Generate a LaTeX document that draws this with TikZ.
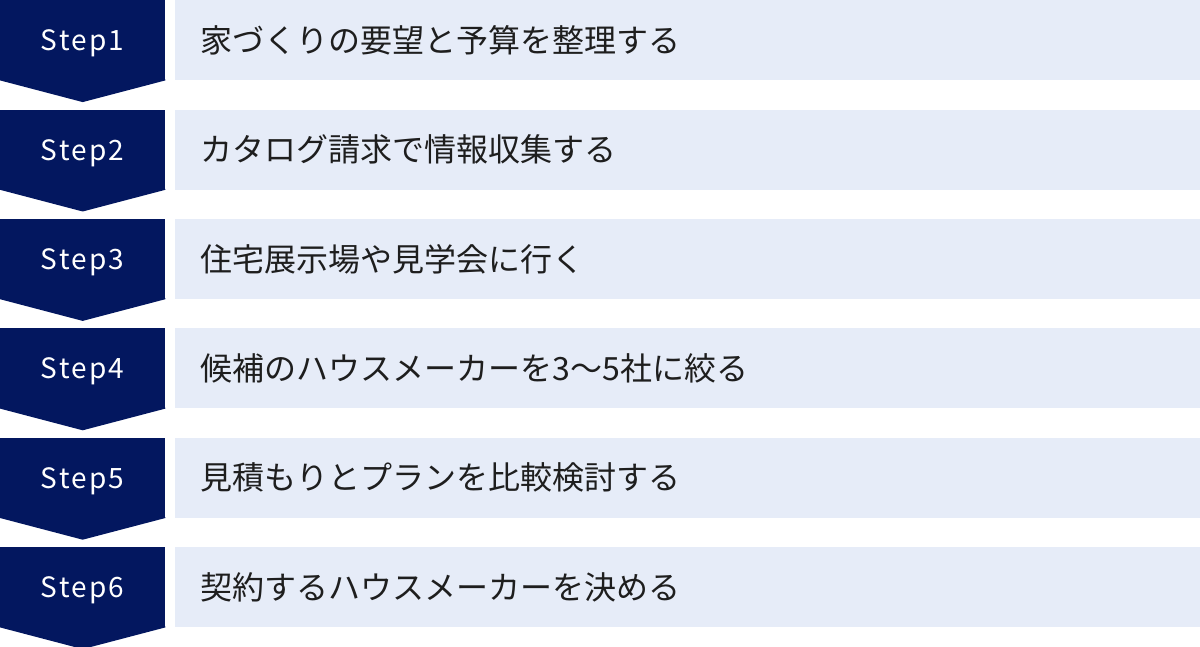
\documentclass[tikz,border=0pt]{standalone}
\usepackage{fontspec}
\setmainfont{Noto Sans CJK JP}
\newfontfamily\stepfont[LetterSpace=8]{Noto Sans CJK JP}
\usetikzlibrary{positioning}
\definecolor{navy}{HTML}{03175F}
\definecolor{pale}{HTML}{E6ECF8}
\definecolor{ink}{HTML}{1E1E1E}
\tikzstyle{stepbox}=[rectangle, fill=navy, text=white, minimum width=165pt,
  minimum height=80pt, inner sep=0pt, text height=21pt, text depth=0pt,
  font=\stepfont\fontsize{28}{32}\selectfont]
\tikzstyle{taskbox}=[rectangle, fill=pale, text=ink, inner xsep=26pt, inner ysep=0pt,
  text width=974pt, minimum height=80pt, align=left,
  font=\fontsize{32}{36}\selectfont]
\tikzstyle{tip}=[fill=navy]

\begin{document}
\begin{tikzpicture}[x=1pt, y=1pt, node distance=29pt]
            \useasboundingbox (0,0) rectangle (1200,-647);

            \node[stepbox, anchor=north west] (s1) at (0,0) {Step1};
            \node[stepbox] (s2) [below=of s1] {Step2};
            \node[stepbox] (s3) [below=of s2] {Step3};
            \node[stepbox] (s4) [below=of s3] {Step4};
            \node[stepbox] (s5) [below=of s4] {Step5};
            \node[stepbox] (s6) [below=of s5] {Step6};

            \node[taskbox] (t1) [right=9pt of s1] {家づくりの要望と予算を整理する};
            \node[taskbox] (t2) [right=9pt of s2] {カタログ請求で情報収集する};
            \node[taskbox] (t3) [right=9pt of s3] {住宅展示場や見学会に行く};
            \node[taskbox] (t4) [right=9pt of s4] {候補のハウスメーカーを3〜5社に絞る};
            \node[taskbox] (t5) [right=9pt of s5] {見積もりとプランを比較検討する};
            \node[taskbox] (t6) [right=9pt of s6] {契約するハウスメーカーを決める};

            % chevron tips
            \fill[tip] ([yshift=1pt]s1.south west) -- (s1.south west) -- ([yshift=-21.7pt]s1.south) -- (s1.south east) -- ([yshift=1pt]s1.south east) -- cycle;
            \fill[tip] ([yshift=1pt]s2.south west) -- (s2.south west) -- ([yshift=-21.7pt]s2.south) -- (s2.south east) -- ([yshift=1pt]s2.south east) -- cycle;
            \fill[tip] ([yshift=1pt]s3.south west) -- (s3.south west) -- ([yshift=-21.7pt]s3.south) -- (s3.south east) -- ([yshift=1pt]s3.south east) -- cycle;
            \fill[tip] ([yshift=1pt]s4.south west) -- (s4.south west) -- ([yshift=-21.7pt]s4.south) -- (s4.south east) -- ([yshift=1pt]s4.south east) -- cycle;
            \fill[tip] ([yshift=1pt]s5.south west) -- (s5.south west) -- ([yshift=-21.7pt]s5.south) -- (s5.south east) -- ([yshift=1pt]s5.south east) -- cycle;
            \fill[tip] ([yshift=1pt]s6.south west) -- (s6.south west) -- ([yshift=-21.7pt]s6.south) -- (s6.south east) -- ([yshift=1pt]s6.south east) -- cycle;
          \end{tikzpicture}
\end{document}
